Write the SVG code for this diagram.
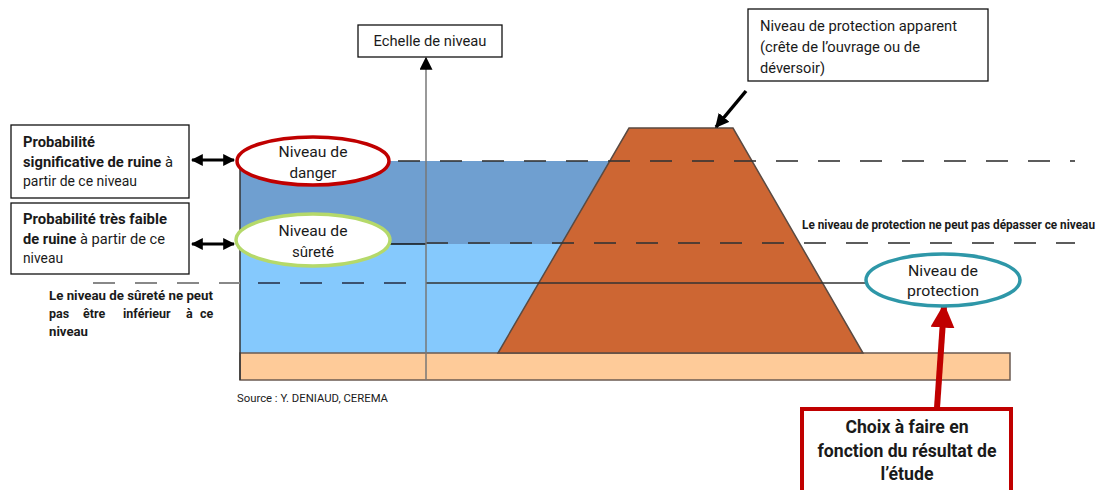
<svg xmlns="http://www.w3.org/2000/svg" width="1103" height="490" viewBox="0 0 1103 490">
<style>
text{font-family:Roboto,"Liberation Sans",sans-serif;fill:#1a1a1a}
.b{font-weight:bold}
.box{fill:#fff;stroke:#111;stroke-width:1.3}
.lbl{font-size:14px}
.ell{font-size:15.5px;text-anchor:middle}
.dash{fill:none;stroke-width:2;stroke-dasharray:22 20}
</style>
<defs>
<marker id="ah" viewBox="0 0 10 10" refX="9" refY="5" markerWidth="4" markerHeight="4" orient="auto-start-reverse" markerUnits="strokeWidth"><path d="M0,0 L10,5 L0,10 z" fill="#000"/></marker>
<marker id="axh" viewBox="0 0 10 10" refX="9" refY="5" markerWidth="19" markerHeight="13" orient="auto" markerUnits="userSpaceOnUse"><path d="M0,0 L10,5 L0,10 z" fill="#000"/></marker>
<marker id="rh" viewBox="0 0 10 10" refX="9" refY="5" markerWidth="4" markerHeight="4" orient="auto" markerUnits="strokeWidth"><path d="M0,0 L10,5 L0,10 z" fill="#C00000"/></marker>
</defs>

<g id="scene">
<polygon points="240,161 610,161 562,244 240,244" fill="#6F9FD0"/>
<polygon points="240,244 562,244 498,353 240,353" fill="#85C9FD"/>
<rect x="240" y="353" width="770" height="27" fill="#FECB99" stroke="#6b5b52" stroke-width="1.5"/>
<polygon points="629,128 733,128 863,353 498,353" fill="#CD6633" stroke="#5a4a42" stroke-width="1.5"/>
<line x1="240" y1="161" x2="240" y2="380" stroke="#333" stroke-width="1.5"/>
</g>

<g id="connectors">
<line class="dash" x1="398" y1="161" x2="1075" y2="161" stroke="#333" stroke-opacity="0.8"/>
<line x1="240" y1="244" x2="426" y2="244" stroke="#111" stroke-width="1.5"/>
<line class="dash" x1="426" y1="243" x2="1075" y2="243" stroke="#333" stroke-opacity="0.8"/>
<line class="dash" x1="93" y1="283" x2="240" y2="283" stroke="#888"/>
<line class="dash" x1="258" y1="283" x2="410" y2="283" stroke="#3b5270"/>
<line x1="426" y1="283" x2="868" y2="283" stroke="#333" stroke-width="1.3"/>
<line x1="426" y1="380" x2="426" y2="58" stroke="#777" stroke-width="1.5" marker-end="url(#axh)"/>
<line x1="192" y1="160" x2="234" y2="160" stroke="#000" stroke-width="3" marker-start="url(#ah)" marker-end="url(#ah)"/>
<line x1="192" y1="244" x2="234" y2="244" stroke="#000" stroke-width="3" marker-start="url(#ah)" marker-end="url(#ah)"/>
<line x1="746" y1="91" x2="716" y2="127" stroke="#000" stroke-width="3.5" marker-end="url(#ah)"/>
<line x1="937" y1="408" x2="944" y2="306" stroke="#C00000" stroke-width="6" marker-end="url(#rh)"/>
</g>

<g id="node-danger">
<ellipse cx="313" cy="161" rx="76" ry="24" fill="#fff" stroke="#C00000" stroke-width="3.5"/>
<text class="ell" x="313" y="157" textLength="69" lengthAdjust="spacingAndGlyphs">Niveau de</text>
<text class="ell" x="313" y="178" textLength="47" lengthAdjust="spacingAndGlyphs">danger</text>
</g>

<g id="node-surete">
<ellipse cx="313" cy="240" rx="77" ry="26" fill="#fff" stroke="#B5D96A" stroke-width="3.5"/>
<text class="ell" x="313" y="236" textLength="69" lengthAdjust="spacingAndGlyphs">Niveau de</text>
<text class="ell" x="313" y="257" textLength="42" lengthAdjust="spacingAndGlyphs">sûreté</text>
</g>

<g id="node-protection">
<ellipse cx="943" cy="280" rx="77" ry="26" fill="#fff" stroke="#2E97A8" stroke-width="3.5"/>
<text class="ell" x="943" y="276" textLength="70" lengthAdjust="spacingAndGlyphs">Niveau de</text>
<text class="ell" x="943" y="296" textLength="72" lengthAdjust="spacingAndGlyphs">protection</text>
</g>

<g id="node-prob-significative">
<rect class="box" x="11" y="125" width="178" height="73"/>
<text class="lbl b" x="23" y="147" textLength="72" lengthAdjust="spacingAndGlyphs">Probabilité</text>
<text class="lbl" x="23" y="167" textLength="150" lengthAdjust="spacingAndGlyphs"><tspan class="b">significative de ruine</tspan> à</text>
<text class="lbl" x="23" y="186" textLength="114" lengthAdjust="spacingAndGlyphs">partir de ce niveau</text>
</g>

<g id="node-prob-faible">
<rect class="box" x="11" y="203" width="178" height="71"/>
<text class="lbl b" x="23" y="224" textLength="144" lengthAdjust="spacingAndGlyphs">Probabilité très faible</text>
<text class="lbl" x="23" y="244" textLength="142" lengthAdjust="spacingAndGlyphs"><tspan class="b">de ruine</tspan> à partir de ce</text>
<text class="lbl" x="23" y="263" textLength="40" lengthAdjust="spacingAndGlyphs">niveau</text>
</g>

<g id="note-surete">
<text class="b" font-size="12.5" x="49" y="300" textLength="164" lengthAdjust="spacingAndGlyphs">Le niveau de sûreté ne peut</text>
<text class="b" font-size="12.5" y="318"><tspan x="49">pas</tspan><tspan x="83">être</tspan><tspan x="123">inférieur</tspan><tspan x="186">à</tspan><tspan x="200">ce</tspan></text>
<text class="b" font-size="12.5" x="49" y="336" textLength="39" lengthAdjust="spacingAndGlyphs">niveau</text>
</g>

<g id="node-echelle">
<rect class="box" x="358" y="25" width="144" height="32"/>
<text class="lbl" x="430" y="46" text-anchor="middle" textLength="113" lengthAdjust="spacingAndGlyphs">Echelle de niveau</text>
</g>

<g id="node-apparent">
<rect class="box" x="748" y="9" width="240" height="72"/>
<text class="lbl" x="760" y="31" textLength="197" lengthAdjust="spacingAndGlyphs">Niveau de protection apparent</text>
<text class="lbl" x="760" y="52" textLength="160" lengthAdjust="spacingAndGlyphs">(crête de l’ouvrage ou de</text>
<text class="lbl" x="760" y="73" textLength="65" lengthAdjust="spacingAndGlyphs">déversoir)</text>
</g>

<g id="note-protection">
<text class="b" font-size="12" x="802" y="229" textLength="293" lengthAdjust="spacingAndGlyphs">Le niveau de protection ne peut pas dépasser ce niveau</text>
</g>

<g id="node-choix">
<rect x="802" y="409" width="209" height="90" fill="#fff" stroke="#C00000" stroke-width="4"/>
<text class="b" font-size="17.5" x="907" y="433" text-anchor="middle" textLength="123" lengthAdjust="spacingAndGlyphs">Choix à faire en</text>
<text class="b" font-size="17.5" x="907" y="457" text-anchor="middle" textLength="179" lengthAdjust="spacingAndGlyphs">fonction du résultat de</text>
<text class="b" font-size="17.5" x="907" y="480" text-anchor="middle" textLength="53" lengthAdjust="spacingAndGlyphs">l’étude</text>
</g>

<g id="source">
<text font-size="11.5" x="237" y="402" fill="#333" textLength="151" lengthAdjust="spacingAndGlyphs">Source : Y. DENIAUD, CEREMA</text>
</g>
</svg>
